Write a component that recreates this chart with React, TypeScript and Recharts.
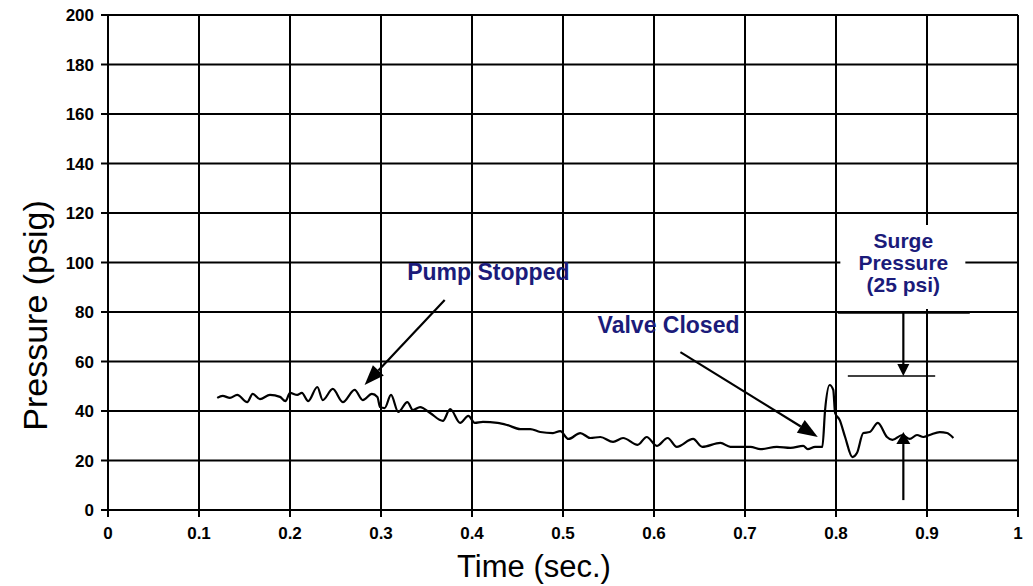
import React from 'react';
import {
  LineChart,
  Line,
  XAxis,
  YAxis,
  CartesianGrid,
  ReferenceLine,
  ReferenceDot,
} from 'recharts';

// pressure trace (time in s, pressure in psig)
const time = [
  0.12, 0.126, 0.134, 0.142, 0.153, 0.159, 0.167, 0.178, 0.189, 0.195, 0.2, 0.208, 0.213, 0.22,
  0.23, 0.236, 0.247, 0.258, 0.271, 0.28, 0.29, 0.296, 0.299, 0.304, 0.311, 0.319, 0.329, 0.335,
  0.343, 0.354, 0.368, 0.376, 0.387, 0.396, 0.403, 0.412, 0.428, 0.439, 0.453, 0.464, 0.475,
  0.489, 0.497, 0.506, 0.519, 0.53, 0.541, 0.555, 0.566, 0.582, 0.592, 0.603, 0.615, 0.625,
  0.643, 0.653, 0.673, 0.684, 0.706, 0.717, 0.735, 0.75, 0.764, 0.769, 0.777, 0.785, 0.788,
  0.793, 0.797, 0.799, 0.804, 0.81, 0.818, 0.823, 0.83, 0.837, 0.846, 0.856, 0.862, 0.873,
  0.881, 0.889, 0.896, 0.903, 0.914, 0.922, 0.929,
];
const pressure = [
  45.3, 46.1, 45.3, 46.5, 43.6, 46.9, 44.8, 46.5, 45.7, 44.0, 47.3, 46.5, 47.3, 44.0,
  49.7, 44.4, 48.9, 43.6, 48.5, 44.4, 46.9, 45.7, 41.6, 41.2, 46.5, 39.6, 43.6, 40.4,
  41.6, 39.2, 36.0, 40.8, 35.2, 38.0, 35.2, 35.6, 35.2, 34.3, 32.7, 32.7, 31.5,
  31.1, 31.9, 28.7, 31.1, 29.1, 29.5, 27.5, 29.1, 26.3, 29.5, 25.9, 29.1, 25.5,
  28.7, 25.5, 27.1, 25.5, 25.5, 24.6, 25.5, 25.1, 25.9, 24.6, 25.5, 25.5, 40.4,
  50.5, 48.5, 39.2, 36.4, 29.5, 21.4, 23.0, 31.1, 31.5, 35.2, 29.5, 28.3, 30.3,
  28.7, 30.3, 29.5, 30.3, 31.5, 31.1, 29.1,
];

const xTicks = [0, 0.1, 0.2, 0.3, 0.4, 0.5, 0.6, 0.7, 0.8, 0.9, 1];
const yTicks = [0, 20, 40, 60, 80, 100, 120, 140, 160, 180, 200];

// annotations, in data units
const pumpArrow = [{ x: 0.37, y: 84.8 }, { x: 0.282, y: 50.5 }];
const valveArrow = [{ x: 0.629, y: 63.8 }, { x: 0.78, y: 29.5 }];
const surgeTop = [{ x: 0.802, y: 79.6 }, { x: 0.947, y: 79.6 }];
const surgePeak = [{ x: 0.813, y: 54.1 }, { x: 0.909, y: 54.1 }];
const surgeDown = [{ x: 0.874, y: 79.6 }, { x: 0.874, y: 54.1 }];
const surgeUp = [{ x: 0.874, y: 4 }, { x: 0.874, y: 31.5 }];

const data = time.map((t, i) => ({ t, p: pressure[i] }));

const FONT = '"Liberation Sans", Arial, sans-serif';
const NAVY = '#1b1b7a';

const arrow = (head: number, width: number) => (props: any) => {
  const { x1, y1, x2, y2 } = props;
  const len = Math.hypot(x2 - x1, y2 - y1) || 1;
  const ux = (x2 - x1) / len;
  const uy = (y2 - y1) / len;
  const bx = x2 - ux * head;
  const by = y2 - uy * head;
  const px = (-uy * width) / 2;
  const py = (ux * width) / 2;
  return (
    <g>
      <line x1={x1} y1={y1} x2={bx} y2={by} stroke="#000" strokeWidth={2.2} />
      <polygon points={`${x2},${y2} ${bx + px},${by + py} ${bx - px},${by - py}`} fill="#000" />
    </g>
  );
};

const plainLine = (w: number) => (props: any) => (
  <line x1={props.x1} y1={props.y1} x2={props.x2} y2={props.y2} stroke="#000" strokeWidth={w} />
);

const note = (text: string) => (props: any) => (
  <text
    x={props.cx}
    y={props.cy}
    textAnchor="middle"
    dominantBaseline="central"
    fontFamily={FONT}
    fontWeight="bold"
    fontSize={23}
    fill={NAVY}
  >
    {text}
  </text>
);

const surgeNote = (props: any) => {
  const { cx, cy } = props;
  return (
    <g>
      <rect x={cx - 63} y={cy - 37} width={125} height={84} fill="#fff" />
      <text textAnchor="middle" fontFamily={FONT} fontWeight="bold" fontSize={21} fill={NAVY}>
        <tspan x={cx} y={cy - 22} dominantBaseline="central">Surge</tspan>
        <tspan x={cx} y={cy} dominantBaseline="central">Pressure</tspan>
        <tspan x={cx} y={cy + 22} dominantBaseline="central">(25 psi)</tspan>
      </text>
    </g>
  );
};

export default function App() {
  return (
    <div style={{ position: 'absolute', left: 0, top: 0, background: '#fff' }}>
      <LineChart width={1033} height={586} data={data} margin={{ top: 15, right: 15, bottom: 0, left: 0 }}>
        <CartesianGrid stroke="#000" strokeWidth={2} />
        <XAxis
          dataKey="t"
          type="number"
          domain={[0, 1]}
          ticks={xTicks}
          tickFormatter={(v: number) => String(v)}
          height={76}
          stroke="#000"
          strokeWidth={2}
          tickSize={7}
          tickMargin={10}
          tick={{ fill: '#000', fontSize: 17, fontWeight: 'bold', fontFamily: FONT }}
          label={{
            value: 'Time (sec.)',
            position: 'insideBottom',
            offset: 9,
            dx: -29,
            style: { fill: '#000', fontSize: 31, fontFamily: FONT },
          }}
        />
        <YAxis
          type="number"
          domain={[0, 200]}
          ticks={yTicks}
          width={108}
          stroke="#000"
          strokeWidth={2}
          tickSize={7}
          tickMargin={7}
          tick={{ fill: '#000', fontSize: 17, fontWeight: 'bold', fontFamily: FONT }}
          label={{
            value: 'Pressure (psig)',
            angle: -90,
            position: 'center',
            dx: -19,
            dy: 53,
            style: { fill: '#000', fontSize: 34, fontFamily: FONT, textAnchor: 'middle' },
          }}
        />
        <ReferenceDot x={0.874} y={100.2} r={0} shape={surgeNote} />
        <ReferenceLine segment={pumpArrow} shape={arrow(20, 15)} />
        <ReferenceLine segment={valveArrow} shape={arrow(20, 15)} />
        <ReferenceLine segment={surgeTop} shape={plainLine(1.5)} />
        <ReferenceLine segment={surgePeak} shape={plainLine(1.5)} />
        <ReferenceLine segment={surgeDown} shape={arrow(12, 12)} />
        <ReferenceLine segment={surgeUp} shape={arrow(12, 14)} />
        <ReferenceDot x={0.418} y={96.2} r={0} shape={note('Pump Stopped')} />
        <ReferenceDot x={0.616} y={74.7} r={0} shape={note('Valve Closed')} />
        <Line
          type="monotone"
          dataKey="p"
          stroke="#000"
          strokeWidth={2.2}
          dot={false}
          isAnimationActive={false}
        />
      </LineChart>
    </div>
  );
}
